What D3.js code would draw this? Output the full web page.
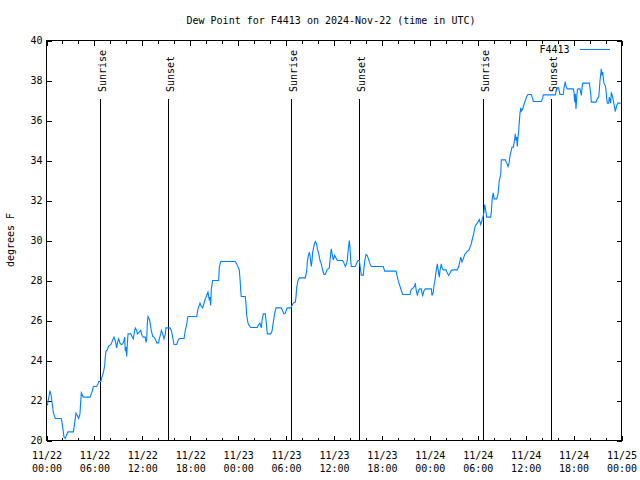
<!DOCTYPE html>
<html>
<head>
<meta charset="utf-8">
<script src="https://cdn.jsdelivr.net/npm/d3@7"></script>
<style>
  html, body { margin: 0; padding: 0; background: #fff; }
  svg { display: block; }
  text { font-family: "DejaVu Sans Mono", "Liberation Mono", monospace; font-size: 10px; fill: #000; }
</style>
</head>
<body>
<script>
// ---- data (hours since 2024-11-22 00:00 UTC, dew point in °F) ----
const hours = [
  0.10,0.44,0.60,0.85,1.10,1.85,2.03,2.19,2.35,2.53,
  2.69,3.36,3.53,3.69,3.86,4.03,4.19,4.28,4.36,4.61,
  5.45,5.61,5.79,5.86,6.29,6.45,6.54,6.79,6.95,7.11,
  7.29,7.36,7.45,7.61,7.79,7.95,8.11,8.29,8.45,8.62,
  8.79,8.87,9.04,9.20,9.37,9.54,9.70,9.79,9.87,9.96,
  10.04,10.12,10.21,10.54,10.71,10.87,11.04,11.12,11.30,11.37,
  11.62,11.80,11.96,12.12,12.37,12.46,12.55,12.62,12.71,12.87,
  12.96,13.12,13.30,13.46,13.62,13.80,14.05,14.12,14.30,14.38,
  14.55,14.71,14.88,14.96,15.46,15.63,15.80,15.97,16.30,16.47,
  16.63,17.22,17.38,17.56,17.72,18.81,18.97,19.22,19.38,19.56,
  19.72,19.89,20.06,20.22,20.39,20.47,20.56,20.64,20.81,21.56,
  21.64,21.81,23.64,23.82,23.98,24.14,24.23,24.32,24.39,24.89,
  24.98,25.07,25.23,25.39,25.57,26.40,26.57,26.73,26.90,26.99,
  27.15,27.40,27.49,27.65,28.07,28.24,28.40,28.58,28.74,29.40,
  29.58,29.74,29.90,30.08,30.15,30.58,30.74,30.90,31.16,31.24,
  31.33,31.49,31.66,32.41,32.58,32.66,32.75,32.91,33.00,33.08,
  33.16,33.25,33.33,33.50,33.66,33.83,33.91,34.09,34.25,34.41,
  34.59,34.75,34.91,35.09,35.25,35.41,35.50,35.59,35.66,35.75,
  35.91,36.09,36.25,36.41,37.09,37.25,37.42,37.59,37.67,37.75,
  37.92,38.00,38.09,38.17,38.67,38.84,39.01,39.17,39.26,39.34,
  39.42,39.67,39.76,39.85,40.01,40.17,40.35,40.51,40.67,42.17,
  42.35,43.77,43.93,44.10,44.27,44.43,44.60,45.52,45.61,45.77,
  45.93,46.11,46.18,46.27,46.43,46.61,46.77,46.93,47.02,47.11,
  47.27,47.43,48.19,48.27,48.43,48.52,48.61,48.77,48.94,49.02,
  49.19,49.27,49.44,49.52,49.69,50.03,50.19,50.36,50.53,50.69,
  50.86,51.44,51.62,51.78,51.87,52.03,52.19,52.37,52.53,52.69,
  52.87,53.03,53.19,53.28,53.44,53.53,53.70,53.87,54.03,54.20,
  54.37,54.53,54.70,54.78,54.87,55.03,55.12,55.62,55.70,55.79,
  55.87,55.95,56.04,56.37,56.54,56.62,56.70,56.88,56.95,57.45,
  57.63,57.79,57.95,58.04,58.20,58.29,58.45,58.63,58.70,58.79,
  58.88,58.95,59.04,59.13,59.20,59.29,59.38,59.46,59.63,59.79,
  59.96,60.13,60.29,60.71,60.88,60.96,61.96,62.14,62.21,63.71,
  63.80,63.96,64.14,64.21,64.30,64.71,64.80,64.96,65.05,65.21,
  65.97,66.05,66.14,66.22,66.30,66.39,66.47,66.55,66.80,66.89,
  66.97,67.06,67.14,67.97,68.15,68.22,68.81,68.97,69.15,69.31,
  69.47,69.56,69.65,69.81,69.97,70.06,70.15,70.22,70.40,70.47,
  70.65,70.72,70.81,70.98,71.06,71.22,71.40,71.56,71.90
];
const dewF = [
  21.75,22.5,22.2,21.4,21.1,21.1,20.67,20.17,20.1,20.3,
  20.43,20.43,20.88,21.37,21.25,21.1,21.33,21.92,22.38,22.17,
  22.17,22.33,22.55,22.7,22.7,22.83,22.95,22.95,23.17,23.38,
  23.75,24.17,24.47,24.53,24.72,24.77,24.83,25.03,25.17,24.97,
  24.63,24.87,25.08,24.87,24.8,24.83,25.0,25.17,24.47,24.67,
  24.2,24.8,25.33,25.33,25.2,25.08,25.5,25.63,25.5,25.33,
  25.42,25.5,25.25,25.17,25.17,24.9,25.08,25.83,26.2,26.08,
  25.92,25.5,25.2,25.17,25.08,24.88,24.88,25.08,25.33,25.5,
  25.33,25.08,25.33,25.63,25.63,25.5,25.17,24.8,24.8,25.0,
  25.1,25.1,25.5,25.83,26.2,26.2,26.58,26.87,26.7,26.63,
  26.87,27.08,27.25,27.42,27.0,27.17,26.75,27.58,28.0,28.0,
  28.67,28.95,28.95,28.83,28.67,28.53,28.08,27.5,27.2,27.2,
  26.83,26.25,25.87,25.75,25.65,25.65,25.8,25.87,25.63,26.0,
  26.33,26.33,26.0,25.33,25.33,25.47,25.92,26.37,26.63,26.63,
  26.47,26.33,26.37,26.58,26.63,26.63,26.75,26.87,26.92,27.17,
  27.67,28.0,28.13,28.13,28.47,28.92,29.17,29.42,29.25,28.92,
  28.7,29.0,29.42,29.75,29.95,29.83,29.58,29.33,29.0,28.83,
  28.5,28.3,28.3,28.5,28.58,28.63,29.0,29.37,29.58,29.37,
  29.03,29.25,29.13,29.0,29.0,28.87,28.7,28.87,29.0,29.42,
  30.0,29.67,29.0,28.7,28.7,28.87,29.0,29.0,28.75,28.5,
  28.27,28.27,28.67,29.0,29.3,29.25,29.03,28.83,28.7,28.7,
  28.47,28.47,28.17,27.92,27.7,27.5,27.3,27.3,27.5,27.58,
  27.63,27.73,27.87,27.58,27.25,27.53,27.58,27.58,27.37,27.25,
  27.5,27.58,27.58,27.25,27.42,27.75,27.92,28.42,28.83,28.58,
  28.17,28.5,28.83,28.63,28.53,28.53,28.37,28.25,28.37,28.5,
  28.53,28.53,28.7,29.0,29.17,28.92,29.08,29.3,29.37,29.47,
  29.5,29.67,29.83,30.0,30.25,30.42,30.75,30.83,30.92,31.05,
  30.8,31.0,31.25,31.42,31.8,31.42,31.17,31.17,31.42,32.0,
  32.25,32.38,32.08,32.08,32.33,32.67,33.0,33.3,34.03,34.03,
  33.87,33.7,33.92,34.25,34.5,34.67,34.67,35.08,35.33,35.0,
  35.17,34.7,35.17,35.5,35.92,36.37,36.63,36.47,36.58,36.8,
  37.0,37.2,37.3,37.3,37.08,36.95,36.95,37.13,37.28,37.28,
  37.45,37.63,37.63,37.45,37.3,37.3,37.63,37.95,37.7,37.58,
  37.58,37.42,36.92,37.33,36.58,37.17,37.53,37.58,37.58,37.42,
  37.25,37.63,37.87,37.87,37.33,36.92,36.92,37.08,37.17,38.0,
  38.58,38.25,38.42,37.83,37.75,37.5,37.08,36.87,36.87,37.17,
  36.87,37.37,37.3,37.0,36.83,36.45,36.75,36.87,36.87
];
const eventHours = [6.75, 15.25, 30.65, 39.17, 54.72, 63.2];
const eventNames = ["Sunrise", "Sunset", "Sunrise", "Sunset", "Sunrise", "Sunset"];
const yTickValues = [20, 22, 24, 26, 28, 30, 32, 34, 36, 38, 40];
const seriesName = "F4413";
const titleText = "Dew Point for F4413 on 2024-Nov-22 (time in UTC)";
const yLabelText = "degrees F";

// ---- layout ----
const W = 640, H = 480;
const L = 46.5, R = 621.5, T = 40.5, B = 440.5;
const start = Date.UTC(2024, 10, 22, 0, 0);
const end = Date.UTC(2024, 10, 25, 0, 0);
const toDate = h => new Date(start + h * 3600e3);

const x = d3.scaleUtc().domain([new Date(start), new Date(end)]).range([L, R]);
const y = d3.scaleLinear().domain([20, 40]).range([B, T]);

const svg = d3.select("body").append("svg").attr("width", W).attr("height", H);

const majorTicks = d3.utcHour.every(6).range(new Date(start), new Date(end + 1));
const minorTicks = d3.utcHour.every(2).range(new Date(start), new Date(end + 1));

function styleAxis(g) {
  g.select(".domain").remove();
  g.selectAll(".tick line").attr("stroke", "#000").attr("shape-rendering", "crispEdges");
}

// minor ticks bottom/top
svg.append("g").attr("transform", `translate(0,${B})`)
  .call(d3.axisBottom(x).tickValues(minorTicks).tickSize(-3).tickFormat(""))
  .call(styleAxis);
svg.append("g").attr("transform", `translate(0,${T})`)
  .call(d3.axisTop(x).tickValues(minorTicks).tickSize(-3).tickFormat(""))
  .call(styleAxis);
// major ticks bottom (with labels) / top
const fmtD = d3.utcFormat("%m/%d"), fmtT = d3.utcFormat("%H:%M");
const xb = svg.append("g").attr("transform", `translate(0,${B})`)
  .call(d3.axisBottom(x).tickValues(majorTicks).tickSize(-5).tickFormat(""))
  .call(styleAxis);
xb.selectAll(".tick text").remove();
xb.selectAll(".tick").append("text")
  .attr("text-anchor", "middle")
  .each(function(d) {
    const t = d3.select(this);
    t.append("tspan").attr("x", 0).attr("y", 18).text(fmtD(d));
    t.append("tspan").attr("x", 0).attr("y", 31.5).text(fmtT(d));
  });
svg.append("g").attr("transform", `translate(0,${T})`)
  .call(d3.axisTop(x).tickValues(majorTicks).tickSize(-5).tickFormat(""))
  .call(styleAxis);

// y axes
const yl = svg.append("g").attr("transform", `translate(${L},0)`)
  .call(d3.axisLeft(y).tickValues(yTickValues).tickSize(-5).tickPadding(4).tickFormat(d3.format("d")))
  .call(styleAxis);
yl.selectAll(".tick text").attr("font-family", null).attr("font-size", null).attr("fill", "#000");
yl.attr("font-family", null).attr("font-size", null);
svg.append("g").attr("transform", `translate(${R},0)`)
  .call(d3.axisRight(y).tickValues(yTickValues).tickSize(-5).tickFormat(""))
  .call(styleAxis);
xb.attr("font-family", null).attr("font-size", null);

// frame
svg.append("rect")
  .attr("x", L).attr("y", T).attr("width", R - L).attr("height", B - T)
  .attr("fill", "none").attr("stroke", "#000").attr("shape-rendering", "crispEdges");

// sunrise / sunset markers
const ev = svg.append("g");
eventHours.forEach((h, i) => {
  const px = Math.round(x(toDate(h)) - 0.5) + 0.5;
  ev.append("line")
    .attr("x1", px).attr("x2", px).attr("y1", 99).attr("y2", B)
    .attr("stroke", "#000").attr("shape-rendering", "crispEdges");
  ev.append("text")
    .attr("transform", `translate(${px + 5.5},92) rotate(-90)`)
    .attr("text-anchor", "start")
    .text(eventNames[i]);
});

// data line
const pts = hours.map((h, i) => [toDate(h), dewF[i]]);
svg.append("path")
  .datum(pts)
  .attr("fill", "none")
  .attr("stroke", "#0080ff")
  .attr("stroke-width", 1.1)
  .attr("d", d3.line().x(d => x(d[0])).y(d => y(d[1])));

// legend
svg.append("text").attr("x", 569.5).attr("y", 53).attr("text-anchor", "end").text(seriesName);
svg.append("line").attr("x1", 580).attr("x2", 610).attr("y1", 49.5).attr("y2", 49.5)
  .attr("stroke", "#0080ff").attr("shape-rendering", "crispEdges");

// title
svg.append("text").attr("x", 331).attr("y", 24).attr("text-anchor", "middle").text(titleText);

// y label
svg.append("text")
  .attr("transform", "translate(14,240) rotate(-90)")
  .attr("text-anchor", "middle")
  .text(yLabelText);
</script>
</body>
</html>
